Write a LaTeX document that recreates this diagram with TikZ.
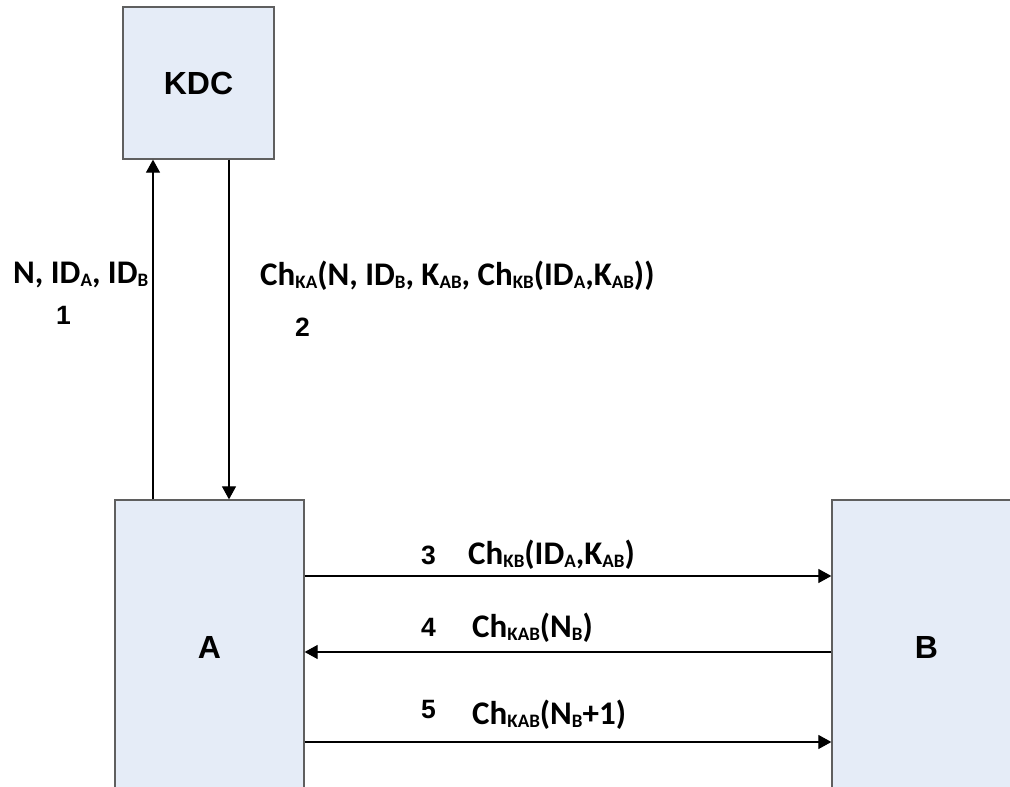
\documentclass[tikz,border=0pt]{standalone}
\usepackage{fontspec}
\setmainfont{Carlito}
\newfontfamily\arialfont{Liberation Sans}
\usepackage{tikz}
\usetikzlibrary{arrows.meta}
\usepackage{xcolor}

\definecolor{boxfill}{RGB}{229,236,247}
\definecolor{boxline}{RGB}{95,95,95}
% subscript in the message labels
\newcommand\sbs[1]{\raisebox{-2.5pt}{\fontsize{19}{19}\selectfont #1}}

\begin{document}
\begin{tikzpicture}[x=1pt,y=1pt,
        >={Triangle[length=13pt,width=14pt]},
        party/.style={draw=boxline,line width=1.3pt,fill=boxfill,inner sep=0pt,
            font=\arialfont\bfseries\fontsize{32}{36}\selectfont},
        flow/.style={->,line width=1.2pt},
        msg/.style={anchor=base west,inner sep=0pt,font=\bfseries\fontsize{33}{36}\selectfont},
        num/.style={anchor=base west,inner sep=0pt,font=\arialfont\bfseries\fontsize{26.5}{30}\selectfont}]
    \useasboundingbox (0,0) rectangle (1010,787);
    \clip (0,0) rectangle (1010,787);
    % --- the three parties (A and B run off the bottom edge) ---
    \node[party,minimum width=151pt,minimum height=152pt] (kdc) at (198.5,704) {KDC};
    \node[party,minimum width=189pt,minimum height=294pt] (a) at (209.5,140) {A};
    \node[party,minimum width=189pt,minimum height=294pt] (b) at (926.5,140) {B};
    % --- A <-> KDC ---
    \coordinate (up) at (153,0);
    \coordinate (down) at (229,0);
    \draw[flow] (a.north -| up) -- (kdc.south -| up);
    \draw[flow] (kdc.south -| down) -- (a.north -| down);
    \node[msg] (m1) at (13,503) {N, ID\sbs{A}, ID\sbs{B}};
    \node[num] (n1) at (56,462) {1};
    \node[msg] (m2) at (260,501) {Ch\sbs{KA}(N, ID\sbs{B}, K\sbs{AB}, Ch\sbs{KB}(ID\sbs{A},K\sbs{AB}))};
    \node[num] (n2) at (295,450) {2};
    % --- A <-> B ---
    \coordinate (r3) at (0,211);
    \coordinate (r4) at (0,135);
    \coordinate (r5) at (0,45);
    \draw[flow] (a.east |- r3) -- (b.west |- r3);
    \draw[flow] (b.west |- r4) -- (a.east |- r4);
    \draw[flow] (a.east |- r5) -- (b.west |- r5);
    \node[num] (n3) at (421,222) {3};
    \node[msg] (m3) at (468,222) {Ch\sbs{KB}(ID\sbs{A},K\sbs{AB})};
    \node[num] (n4) at (421,150) {4};
    \node[msg] (m4) at (472,149) {Ch\sbs{KAB}(N\sbs{B})};
    \node[num] (n5) at (421,68) {5};
    \node[msg] (m5) at (472,62) {Ch\sbs{KAB}(N\sbs{B}+1)};
\end{tikzpicture}
\end{document}
